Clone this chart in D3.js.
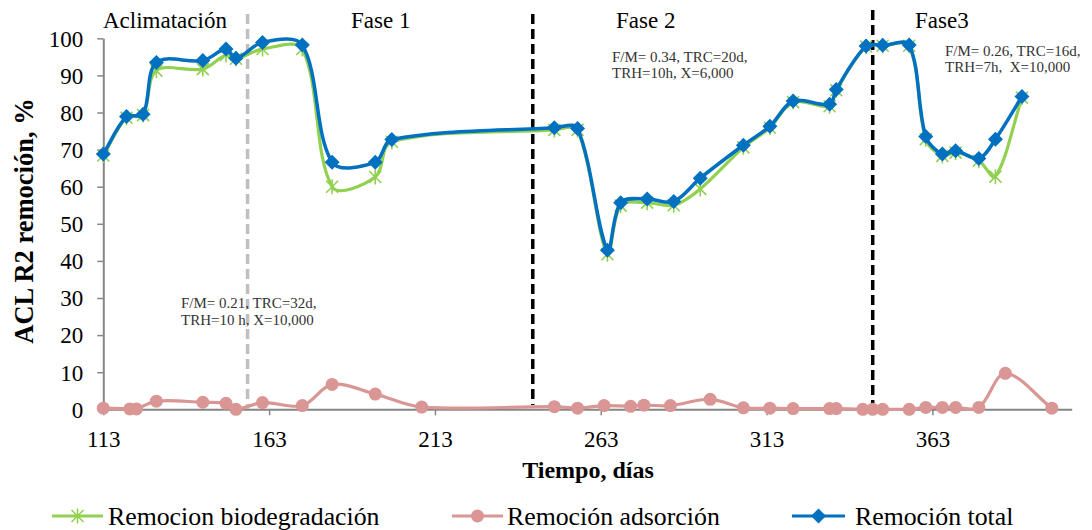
<!DOCTYPE html>
<html>
<head>
<meta charset="utf-8">
<script src="https://cdn.jsdelivr.net/npm/d3@7"></script>
<style>
  html, body { margin: 0; padding: 0; background: #ffffff; }
  svg { display: block; font-family: "Liberation Serif", "Times New Roman", serif; }
</style>
</head>
<body>
<svg id="chart" width="1092" height="530"></svg>
<script>
// ---------- DATA ----------
const daysTotal = [113,120,125,129,143,150,153,161,173,182,195,200,249,256,265,269,277,285,293,306,314,321,332,334,343,348,356,361,366,370,377,382,390];
const remTotal  = [68.8,78.9,79.5,93.5,94.0,97.1,94.6,98.9,98.2,66.6,66.6,72.7,75.9,75.7,42.9,55.7,56.7,56.0,62.3,71.2,76.3,83.1,82.2,86.2,97.9,98.1,98.2,73.5,68.8,69.7,67.6,72.8,84.3];
const remBio    = [68.4,78.6,79.3,91.3,91.7,95.5,94.5,97.1,97.1,60.0,62.6,72.1,75.3,75.3,41.8,54.9,55.7,55.0,59.4,70.6,75.9,82.8,81.7,86.0,97.8,98.0,98.0,72.8,68.3,69.2,67.0,62.7,84.0];
const daysAds   = [113,121,123,129,143,150,153,161,173,182,195,209,249,256,264,272,276,284,296,306,314,321,332,334,342,345,348,356,361,366,370,377,385,399];
const remAds    = [0.3,0.1,0.1,2.2,1.9,1.6,0.0,1.8,1.0,6.7,4.1,0.6,0.7,0.3,1.0,0.8,1.1,1.0,2.7,0.4,0.3,0.2,0.2,0.2,0.0,0.0,0.0,0.0,0.5,0.5,0.5,0.5,9.7,0.3];

const xTicks = [113,163,213,263,313,363];
const yTicks = [0,10,20,30,40,50,60,70,80,90,100];
const xDomain = [113, 405];
const yDomain = [0, 100];

const phaseLines = [156.5, 242.5, 345];   // day positions of phase separators
const phaseLabels = ["Aclimatación", "Fase 1", "Fase 2", "Fase3"];
const noteA = ["F/M= 0.21, TRC=32d,", "TRH=10 h, X=10,000"];
const noteB = ["F/M= 0.34, TRC=20d,", "TRH=10h, X=6,000"];
const noteC = ["F/M= 0.26, TRC=16d,", "TRH=7h,\u00a0 X=10,000"];
const seriesNames = ["Remocion biodegradación", "Remoción adsorción", "Remoción total"];
const xTitle = "Tiempo, días";
const yTitle = "ACL R2 remoción, %";

// ---------- STYLE ----------
const cGreen = "#92D050", cPink = "#D99694", cBlue = "#0070C0", cAxis = "#868686";

const svg = d3.select("#chart");
svg.append("rect").attr("width",1092).attr("height",530).attr("fill","#fff");

const x = d3.scaleLinear().domain(xDomain).range([103.3, 1071.7]);
const y = d3.scaleLinear().domain(yDomain).range([409.3, 38.3]);

// Axes
const yAxis = svg.append("g").attr("transform", `translate(${x(xDomain[0])},0)`)
  .call(d3.axisLeft(y).tickValues(yTicks).tickSize(6).tickSizeOuter(0).tickFormat(d3.format("d")));
yAxis.select(".domain").attr("stroke", cAxis).attr("stroke-width", 2);
yAxis.selectAll(".tick line").attr("stroke", cAxis).attr("stroke-width", 1.5);
yAxis.selectAll(".tick text").attr("x", -20).attr("dy", "0.34em")
  .attr("font-size", 23).attr("font-family", "Liberation Serif").attr("fill", "#000");

const xAxis = svg.append("g").attr("transform", `translate(0,${y(0)})`)
  .call(d3.axisBottom(x).tickValues(xTicks).tickSize(6).tickSizeOuter(0).tickFormat(d3.format("d")));
xAxis.select(".domain").attr("stroke", cAxis).attr("stroke-width", 2);
xAxis.selectAll(".tick line").attr("stroke", cAxis).attr("stroke-width", 1.5);
xAxis.selectAll(".tick text").attr("y", 38).attr("dy", 0)
  .attr("font-size", 23).attr("font-family", "Liberation Serif").attr("fill", "#000");

// Phase separators
const sepStyles = [
  {color: "#BFBFBF", y0: 14, y1: 409},
  {color: "#000000", y0: 14, y1: 405},
  {color: "#000000", y0: 10, y1: 405}
];
phaseLines.forEach((d, i) => {
  svg.append("line")
    .attr("x1", x(d)).attr("x2", x(d))
    .attr("y1", sepStyles[i].y0).attr("y2", sepStyles[i].y1)
    .attr("stroke", sepStyles[i].color).attr("stroke-width", 3.5)
    .attr("stroke-dasharray", "10,5");
});

// Phase labels
const phaseLabelX = [103, 351, 616, 915];
phaseLabels.forEach((t, i) => {
  svg.append("text").attr("x", phaseLabelX[i]).attr("y", 28)
    .attr("font-size", 23).attr("fill", "#000").text(t);
});

// Notes
function note(lines, x0, y0) {
  lines.forEach((t, i) => {
    svg.append("text").attr("x", x0).attr("y", y0 + i * 16.5)
      .attr("font-size", 15).attr("fill", "#333").text(t);
  });
}
note(noteA, 181, 308);
note(noteB, 612, 61.5);
note(noteC, 945, 55.5);

// Smooth (spreadsheet-style) curve: Bezier with tangents scaled by adjacent chord lengths
function smoothPath(pts) {
  const P = pts.map(d => [x(d[0]), y(d[1])]);
  const n = P.length;
  const dist = (a, b) => Math.hypot(b[0] - a[0], b[1] - a[1]);
  const cin = [], cout = [];
  for (let i = 0; i < n; i++) {
    const prev = P[Math.max(0, i - 1)], next = P[Math.min(n - 1, i + 1)];
    const T = [next[0] - prev[0], next[1] - prev[1]];
    const dp = i > 0 ? dist(P[i - 1], P[i]) : 0;
    const dn = i < n - 1 ? dist(P[i], P[i + 1]) : 0;
    const s = dp + dn || 1;
    cout.push([P[i][0] + T[0] * dn / s / 3, P[i][1] + T[1] * dn / s / 3]);
    cin.push([P[i][0] - T[0] * dp / s / 3, P[i][1] - T[1] * dp / s / 3]);
  }
  const p = d3.path();
  p.moveTo(P[0][0], P[0][1]);
  for (let i = 0; i < n - 1; i++) {
    p.bezierCurveTo(cout[i][0], cout[i][1], cin[i + 1][0], cin[i + 1][1], P[i + 1][0], P[i + 1][1]);
  }
  return p.toString();
}

const bioPts = daysTotal.map((d, i) => [d, remBio[i]]);
const totPts = daysTotal.map((d, i) => [d, remTotal[i]]);
const adsPts = daysAds.map((d, i) => [d, remAds[i]]);

const starPath = "M-6,-6L6,6M-6,6L6,-6M0,-7.5L0,7.5";
const diamondPath = "M0,-7.5L7.5,0L0,7.5L-7.5,0Z";

// Green
svg.append("path").attr("d", smoothPath(bioPts)).attr("fill", "none")
  .attr("stroke", cGreen).attr("stroke-width", 3.2).attr("stroke-linejoin", "round");
svg.append("g").selectAll("path").data(bioPts).join("path")
  .attr("transform", d => `translate(${x(d[0])},${y(d[1])})`)
  .attr("d", starPath).attr("stroke", cGreen).attr("stroke-width", 1.6).attr("fill", "none");

// Pink
svg.append("path").attr("d", smoothPath(adsPts)).attr("fill", "none")
  .attr("stroke", cPink).attr("stroke-width", 3.2).attr("stroke-linejoin", "round");
svg.append("g").selectAll("circle").data(adsPts).join("circle")
  .attr("cx", d => x(d[0])).attr("cy", d => y(d[1])).attr("r", 6.5).attr("fill", cPink);

// Blue
svg.append("path").attr("d", smoothPath(totPts)).attr("fill", "none")
  .attr("stroke", cBlue).attr("stroke-width", 3.5).attr("stroke-linejoin", "round");
svg.append("g").selectAll("path").data(totPts).join("path")
  .attr("transform", d => `translate(${x(d[0])},${y(d[1])})`)
  .attr("d", diamondPath).attr("fill", cBlue);

// Axis titles
svg.append("text").attr("x", 588).attr("y", 478).attr("text-anchor", "middle")
  .attr("font-size", 24).attr("font-weight", "bold").text(xTitle);
svg.append("text").attr("transform", "translate(33,221) rotate(-90)").attr("text-anchor", "middle")
  .attr("font-size", 26.5).attr("font-weight", "bold").text(yTitle);

// Legend
const legendItems = [
  {x0: 52, x1: 103, tx: 108, color: cGreen, kind: "star"},
  {x0: 452, x1: 503, tx: 507, color: cPink, kind: "circle"},
  {x0: 792, x1: 845, tx: 855, color: cBlue, kind: "diamond"}
];
const ly = 516;
legendItems.forEach((it, i) => {
  const g = svg.append("g");
  g.append("line").attr("x1", it.x0).attr("x2", it.x1).attr("y1", ly).attr("y2", ly)
    .attr("stroke", it.color).attr("stroke-width", 3.2);
  const cx = (it.x0 + it.x1) / 2;
  if (it.kind === "star") {
    g.append("path").attr("transform", `translate(${cx},${ly})`).attr("d", starPath)
      .attr("stroke", it.color).attr("stroke-width", 1.6).attr("fill", "none");
  } else if (it.kind === "circle") {
    g.append("circle").attr("cx", cx).attr("cy", ly).attr("r", 6.5).attr("fill", it.color);
  } else {
    g.append("path").attr("transform", `translate(${cx},${ly})`).attr("d", diamondPath).attr("fill", it.color);
  }
  g.append("text").attr("x", it.tx).attr("y", ly + 8.5).attr("font-size", 25.8).attr("fill", "#000").text(seriesNames[i]);
});
</script>
</body>
</html>
